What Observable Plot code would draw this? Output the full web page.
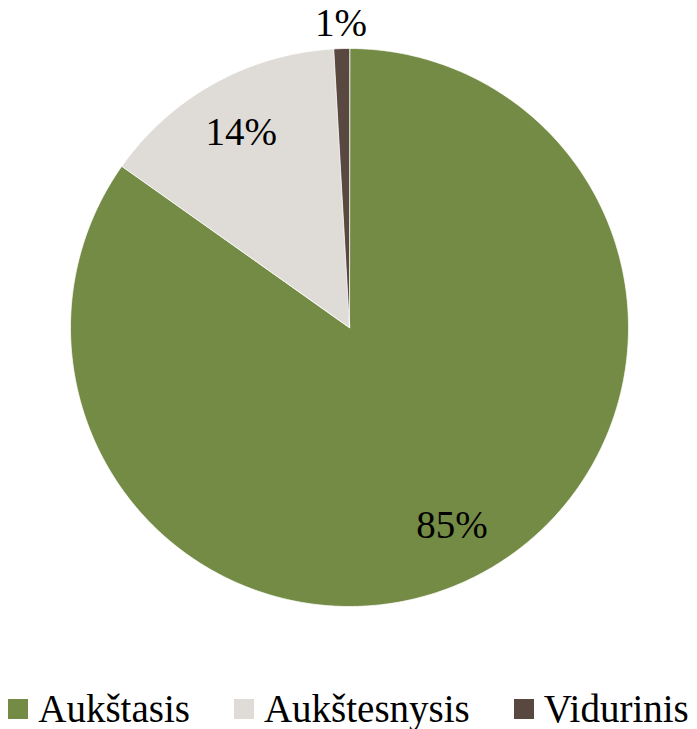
<!DOCTYPE html>
<html>
<head>
<meta charset="utf-8">
<script src="https://cdn.jsdelivr.net/npm/d3@7"></script>
<script src="https://cdn.jsdelivr.net/npm/@observablehq/plot@0.6"></script>
<style>
  body { margin: 0; background: #fff; font-family: "Liberation Serif", serif; }
  #wrap { position: relative; width: 697px; height: 729px; }
  #legend { position: absolute; left: 0; top: 687px; width: 697px; height: 43px;
    display: flex; justify-content: center; align-items: center; font-size: 39px; line-height: 43px; color: #000; }
  .item { display: flex; align-items: center; margin: 0 22px; }
  .sw { width: 20px; height: 20px; margin-right: 10px; }
</style>
</head>
<body>
<div id="wrap"><div id="chart"></div><div id="legend"></div></div>
<script>
const categories = ["Aukštasis", "Aukštesnysis", "Vidurinis"];
const values = [84.8, 14.3, 0.9];
const labels = ["85%", "14%", "1%"];
const colors = ["#748B45", "#DFDBD7", "#594840"];

const pie = d3.pie().sort(null).startAngle(0).endAngle(2 * Math.PI)(values);

// slice polygons in unit coordinates
const pts = [];
pie.forEach((s, i) => {
  const name = categories[i];
  pts.push({name, x: 0, y: 0});
  const steps = Math.max(2, Math.ceil((s.endAngle - s.startAngle) / (Math.PI / 360)));
  for (let k = 0; k <= steps; k++) {
    const a = s.startAngle + (s.endAngle - s.startAngle) * k / steps;
    pts.push({name, x: Math.sin(a), y: Math.cos(a)});
  }
});

const labelData = pie.map((s, i) => {
  const a = (s.startAngle + s.endAngle) / 2;
  const f = values[i] < 5 ? 1.09 : 0.8;
  return {label: labels[i], x: f * Math.sin(a), y: f * Math.cos(a)};
});

const chart = Plot.plot({
  width: 697,
  height: 660,
  marginLeft: 70,
  marginRight: 69,
  marginTop: 48,
  marginBottom: 54,
  x: {domain: [-1, 1], axis: null},
  y: {domain: [-1, 1], axis: null},
  color: {domain: categories, range: colors},
  style: {background: "transparent", fontFamily: "Liberation Serif, serif"},
  marks: [
    Plot.line(pts, {x: "x", y: "y", z: "name", fill: "name", stroke: "white", strokeWidth: 0.75, curve: "linear-closed"}),
    Plot.text(labelData, {x: "x", y: "y", text: "label", fontSize: 39, fill: "black"})
  ]
});
document.getElementById("chart").appendChild(chart);

const legend = document.getElementById("legend");
categories.forEach((c, i) => {
  const it = document.createElement("div");
  it.className = "item";
  const sw = document.createElement("span");
  sw.className = "sw";
  sw.style.background = colors[i];
  const tx = document.createElement("span");
  tx.textContent = c;
  it.appendChild(sw); it.appendChild(tx);
  legend.appendChild(it);
});
</script>
</body>
</html>
